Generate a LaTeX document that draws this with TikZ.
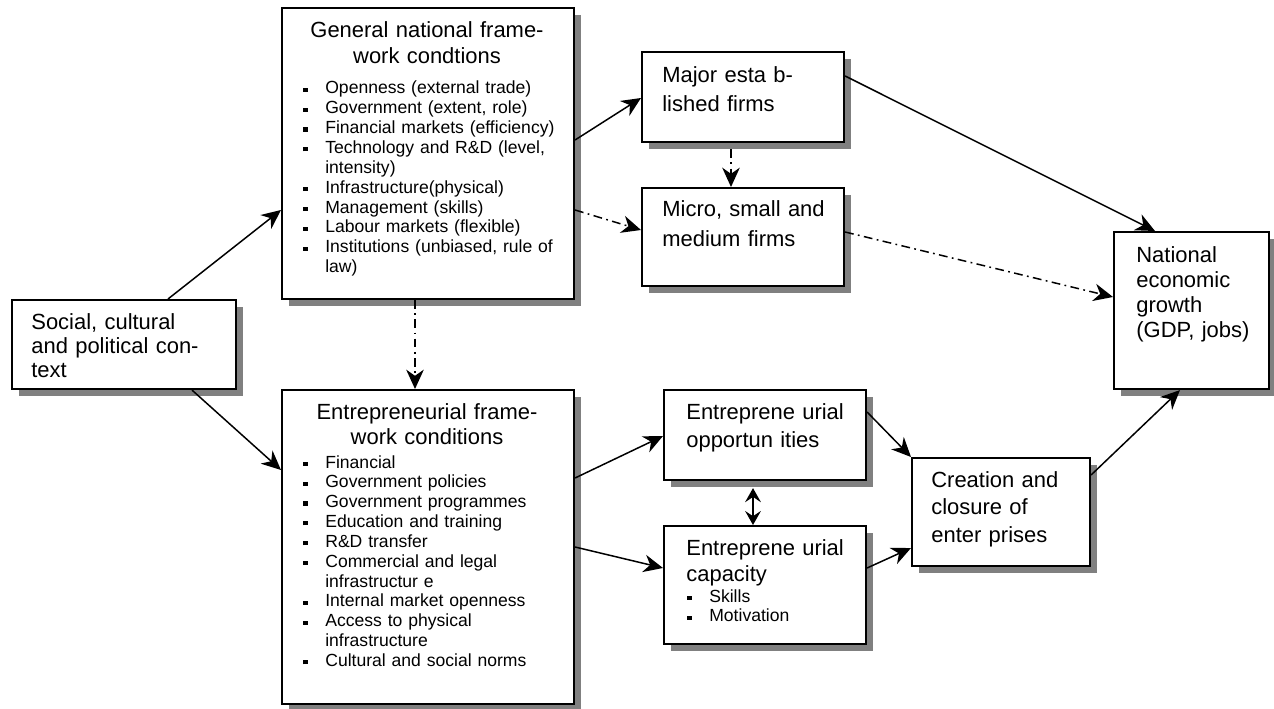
\documentclass[tikz,border=0pt]{standalone}
\usepackage{fontspec}
\setmainfont{Liberation Sans}
\usetikzlibrary{arrows.meta,shadows}

\newcommand{\fbig}[1]{\fontsize{12.5}{#1}\selectfont}
\newcommand{\fsmall}{\fontsize{10}{11.3}\selectfont}
\newcommand{\itm}{\makebox[12.5pt][l]{\raisebox{1.2pt}{\rule{2.4pt}{2.4pt}}}}
\newcommand{\ind}{\hspace*{12.5pt}}

\tikzset{
	box/.style={draw,line width=1.2pt,fill=white,anchor=north west,inner sep=0pt,
		drop shadow={shadow xshift=.14cm,shadow yshift=-.14cm,fill=gray,opacity=1}},
	txt/.style={anchor=base west,inner sep=0pt,text width=5.5cm,align=left},
	ttl/.style={anchor=base,inner sep=0pt,text width=5.8cm,align=center},
	arr/.style={->,>={Stealth[length=11pt,width=10pt,inset=3.5pt]},line width=.85pt},
	dd/.style={arr,dash pattern=on 5pt off 2.5pt on 1pt off 2.5pt}
}

\begin{document}
\begin{tikzpicture}[x=0.02cm,y=-0.02cm]
		\useasboundingbox (0,0) rectangle (1274,709);
		% boxes
		\node[box,minimum width=4.48cm,minimum height=1.78cm] (soc) at (11,299) {};
		\node[box,minimum width=5.84cm,minimum height=5.82cm] (gen) at (281,7) {};
		\node[box,minimum width=5.84cm,minimum height=6.28cm] (ent) at (281,389) {};
		\node[box,minimum width=4.04cm,minimum height=1.8cm] (maj) at (641,51) {};
		\node[box,minimum width=4.04cm,minimum height=1.96cm] (mic) at (641,187) {};
		\node[box,minimum width=4.04cm,minimum height=1.8cm] (opp) at (663,389) {};
		\node[box,minimum width=4.04cm,minimum height=2.36cm] (cap) at (663,525) {};
		\node[box,minimum width=3.56cm,minimum height=2.16cm] (cre) at (911,457) {};
		\node[box,minimum width=3.1cm,minimum height=3.14cm] (nat) at (1113,231) {};
		% texts
		\node[txt,font=\fbig{13.6pt}] (soc-t) at (31,330) {Social, cultural\\and political con-\\text};
		\node[ttl,font=\fbig{14.3pt}] (gen-t) at (427,38) {General national frame-\\work condtions};
		\node[txt,font=\fsmall] (gen-l) at (303,94) {\itm Openness (external trade)\\\itm Government (extent, role)\\\itm Financial markets (efficiency)\\\itm Technology and R\&D (level,\\\ind intensity)\\\itm Infrastructure(physical)\\\itm Management (skills)\\\itm Labour markets (flexible)\\\itm Institutions (unbiased, rule of\\\ind law)};
		\node[ttl,font=\fbig{14.3pt}] (ent-t) at (427,419) {Entrepreneurial frame-\\work conditions};
		\node[txt,font=\fsmall] (ent-l) at (303,468) {\itm Financial\\\itm Government policies\\\itm Government programmes\\\itm Education and training\\\itm R\&D transfer\\\itm Commercial and legal\\\ind infrastructur e\\\itm Internal market openness\\\itm Access to physical\\\ind infrastructure\\\itm Cultural and social norms};
		\node[txt,font=\fbig{16.4pt}] (maj-t) at (662,83) {Major esta b-\\lished firms};
		\node[txt,font=\fbig{17pt}] (mic-t) at (662,217) {Micro, small and\\medium firms};
		\node[txt,font=\fbig{16.4pt}] (opp-t) at (686,419) {Entreprene urial\\opportun ities};
		\node[txt,font=\fbig{15.3pt}] (cap-t) at (686,555) {Entreprene urial\\capacity};
		\node[txt,font=\fsmall] (cap-l) at (687,602) {\itm Skills\\\itm Motivation};
		\node[txt,font=\fbig{15.9pt}] (cre-t) at (931,487) {Creation and\\closure of\\enter prises};
		\node[txt,font=\fbig{14.2pt}] (nat-t) at (1136,263) {National\\economic\\growth\\(GDP, jobs)};
		% arrows
		\draw[arr](soc.north -| 168,0)--(gen.west |- 0,210);
		\draw[arr](soc.south -| 192,0)--(ent.west |- 0,470);
		\draw[dd](gen.south -| 415,0)--(ent.north -| 415,0);
		\draw[arr](gen.east |- 0,140)--(maj.west |- 0,98);
		\draw[dd](gen.east |- 0,210)--(mic.west |- 0,230);
		\draw[dd,shorten <=3.5pt](maj.south -| 731,0)--(mic.north -| 731,0);
		\draw[arr](maj.east |- 0,76)--(nat.north -| 1155,0);
		\draw[dd](mic.east |- 0,232)--(nat.west |- 0,297);
		\draw[arr](ent.east |- 0,478)--(opp.west |- 0,436);
		\draw[arr](ent.east |- 0,547)--(cap.west |- 0,568);
		\draw[arr,<->,>={Stealth[length=8pt,width=9pt,inset=3pt]},shorten <=4pt](opp.south -| 753,0)--(cap.north -| 753,0);
		\draw[arr](opp.east |- 0,412)--(cre.north west);
		\draw[arr](cap.east |- 0,568)--(cre.west |- 0,548);
		\draw[arr](cre.east |- 0,475)--(nat.south -| 1180,0);
	\end{tikzpicture}
\end{document}
